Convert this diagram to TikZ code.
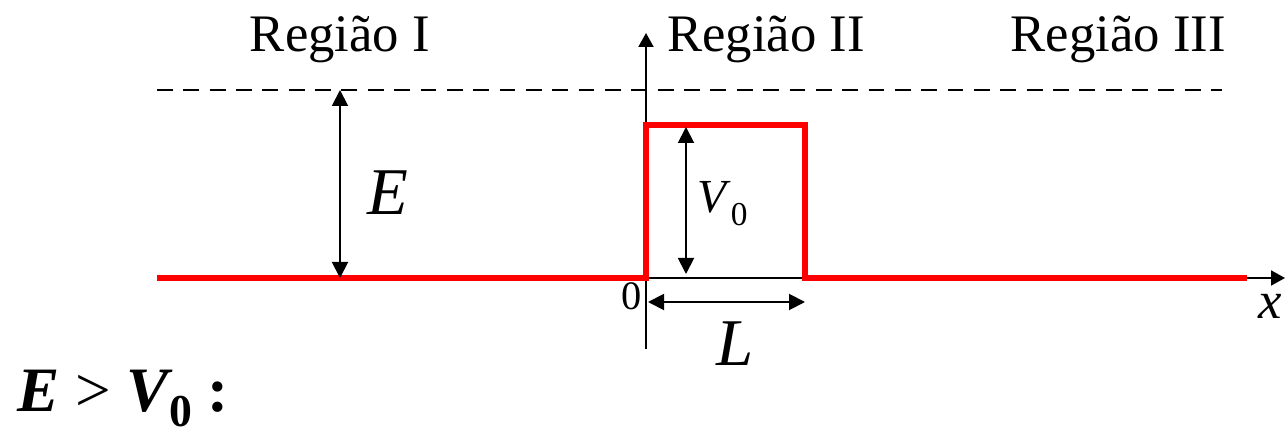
\documentclass[tikz,border=0pt]{standalone}
\usepackage{fontspec}
\setmainfont{Liberation Serif}
\usetikzlibrary{arrows.meta}
\tikzset{
  axisline/.style={line width=1.1pt, -{Triangle[length=0.28cm,width=0.3cm]}},
  dimline/.style={line width=1.1pt, {Triangle[length=0.32cm,width=0.32cm]}-{Triangle[length=0.32cm,width=0.32cm]}},
  potline/.style={red, line width=3.4pt},
  lbl/.style={inner sep=0pt, font=\fontsize{30}{36}\selectfont},
}
\begin{document}
\begin{tikzpicture}[x=0.02cm,y=-0.02cm]
\useasboundingbox (0,0) rectangle (1285,438);
% coordinates
\coordinate (ao) at (646,278);
\coordinate (ax) at (1285,278);
\coordinate (ab) at (646,349);
\coordinate (at) at (646,33);
\coordinate (dl) at (157,90);
\coordinate (dr) at (1222,90);
\coordinate (p0) at (157,278);
\coordinate (p1) at (646,278);
\coordinate (p2) at (646,125);
\coordinate (p3) at (805,125);
\coordinate (p4) at (805,278);
\coordinate (p5) at (1247,278);
\coordinate (et) at (340,90);
\coordinate (eb) at (340,278);
\coordinate (vt) at (686,127);
\coordinate (vb) at (686,274);
\coordinate (ll) at (648,302);
\coordinate (lr) at (805,302);
% axes
\draw[line width=1.1pt] (ao) -- (ab);
\draw[axisline] (ao) -- (at);
\draw[axisline] (ao) -- (ax);
% dashed energy line
\draw[dashed, line width=1pt, dash pattern=on 9pt off 6pt] (dl) -- (dr);
% potential
\draw[potline, line join=miter] (p0) -- (p1) -- (p2) -- (p3) -- (p4) -- (p5);
% dimension arrows
\draw[dimline] (et) -- (eb);
\draw[dimline] (vt) -- (vb);
\draw[dimline] (ll) -- (lr);
% labels
\node[lbl, anchor=base] (r1) at (340,52) {Região I};
\node[lbl, anchor=base west] (r2) at (667,52) {Região II};
\node[lbl, anchor=base east] (r3) at (1226,52) {Região III};
\node[inner sep=0pt, anchor=base, font=\fontsize{38}{44}\selectfont\itshape] (le) at (388,215) {E};
\node[inner sep=0pt, anchor=base west, font=\fontsize{27}{32}\selectfont] (lv) at (697,213)
  {\textit{V}\raisebox{-0.26cm}{\fontsize{19}{22}\selectfont 0}};
\node[inner sep=0pt, anchor=base, font=\fontsize{38}{44}\selectfont\itshape] (ll2) at (735,366) {L};
\node[inner sep=0pt, anchor=base, font=\fontsize{23}{28}\selectfont] (l0) at (632,310) {0};
\node[inner sep=0pt, anchor=base, font=\fontsize{30}{36}\selectfont\itshape] (lx) at (1270,319) {x};
\node[inner sep=0pt, anchor=base west, font=\fontsize{36}{42}\selectfont] (cond) at (17,412)
  {{\bfseries\itshape E} \textgreater{} {\bfseries\itshape V}\raisebox{-0.3cm}{\fontsize{26}{30}\selectfont\bfseries 0} \textbf{:}};
\end{tikzpicture}
\end{document}
